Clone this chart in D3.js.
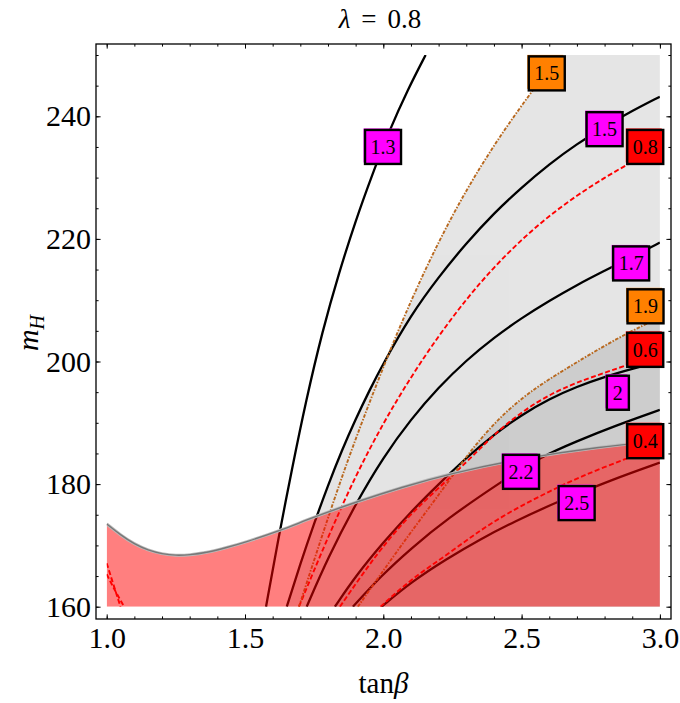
<!DOCTYPE html>
<html>
<head>
<meta charset="utf-8">
<script src="https://cdn.jsdelivr.net/npm/d3@7"></script>
<style>
  body { margin: 0; background: #fff; }
  svg { display: block; }
</style>
</head>
<body>
<svg id="chart"></svg>
<script>
var W = 680, H = 703;

// contour curves, [tanb, mH]
var black13 = [[1.576,160],[1.62,171],[1.67,182.5],[1.72,193.5],[1.78,205],[1.84,214.5],[1.90,223],[1.96,230.5],[2.02,237.5],[2.09,244.5],[2.153,250]];
var black15 = [[1.651,160],[1.70,167.0],[1.75,173.6],[1.80,179.8],[1.85,185.5],[1.90,190.6],[1.95,195.3],[2.0,199.7],[2.1,207.6],[2.2,213.8],[2.3,219.3],[2.4,224.2],[2.5,228.4],[2.6,232.2],[2.7,235.5],[2.8,238.3],[2.9,240.9],[3.0,243.2]];
var black17 = [[1.723,160],[1.80,168],[1.90,176.8],[2.0,184.4],[2.1,190.6],[2.2,195.8],[2.3,200.2],[2.4,203.9],[2.5,207.1],[2.6,209.9],[2.7,212.5],[2.8,214.8],[2.9,217.1],[3.0,219.4]];
var black20 = [[1.825,160],[1.90,165],[2.0,170.5],[2.1,175.5],[2.2,180],[2.3,184.3],[2.4,188.1],[2.5,191.3],[2.6,193.9],[2.7,195.9],[2.8,197.5],[2.9,198.8],[3.0,200]];
var black22 = [[1.890,160],[1.989,164.9],[2.1,169.5],[2.229,174.3],[2.43,180.5],[2.567,184.4],[2.7,187],[2.832,189.4],[3.0,192.1]];
var black25 = [[1.994,160],[2.1,164],[2.229,167.8],[2.35,171],[2.47,173.8],[2.633,177.2],[2.832,180.8],[3.0,183.5]];

var red08 = [[1.695,160],[1.80,171.4],[1.90,181.4],[2.0,190.0],[2.1,197.5],[2.2,204.2],[2.3,210.2],[2.4,215.4],[2.5,219.9],[2.6,223.8],[2.7,227.1],[2.8,230.0],[2.9,232.6],[3.0,235.0]];
var red06 = [[1.843,160],[1.92,165],[1.989,169.3],[2.1,175.3],[2.253,181.5],[2.35,185.8],[2.434,189.5],[2.555,193.5],[2.675,196.2],[2.783,197.9],[2.88,199.4],[3.0,201.3]];
var red04 = [[1.99,160],[2.1,164.5],[2.229,168.4],[2.35,172.5],[2.47,175.8],[2.6,178.8],[2.711,181.2],[2.88,184.2],[3.0,186.2]];
var redA = [[1.0,167.1],[1.025,163.5],[1.05,160]];
var redB = [[1.0,165.3],[1.03,162.6],[1.063,160]];

var orange15 = [[1.695,160],[1.75,167.6],[1.80,174.5],[1.85,181.1],[1.90,187.4],[2.0,199.2],[2.1,210.0],[2.2,219.6],[2.3,228.0],[2.4,235.3],[2.5,241.8],[2.635,250]];
var orange19 = [[1.908,160],[1.989,165.2],[2.1,172.2],[2.223,179.6],[2.313,185.4],[2.434,191.6],[2.555,195.9],[2.675,199.2],[2.77,201.8],[2.88,204.6],[3.0,207.2]];

// upper edge of the red region
var redEdge = [[1.0,173.5],[1.05,171.7],[1.1,170.2],[1.15,169.2],[1.2,168.6],[1.25,168.35],[1.3,168.45],[1.36,168.8],[1.43,169.6],[1.5,170.5],[1.627,172.4],[1.747,174.6],[1.916,177.3],[2.06,179.4],[2.247,181.8],[2.5,184.2],[2.783,186.1],[3.0,187.0]];

// contour labels: text, kind, tanb, mH
var labelText = ["1.5","1.3","1.5","0.8","1.7","1.9","0.6","2","0.4","2.2","2.5"];
var labelKind = ["orange","magenta","magenta","red","magenta","orange","red","magenta","red","magenta","magenta"];
var labelT = [2.591,1.999,2.80,2.947,2.896,2.948,2.947,2.848,2.947,2.498,2.699];
var labelM = [247.0,235.0,237.9,235.0,216.0,209.0,201.9,194.9,187.0,182.0,176.9];

var xMajor = [1.0,1.5,2.0,2.5,3.0];
var yMajor = [160,180,200,220,240];

var svg = d3.select("#chart").attr("width", W).attr("height", H);

var x = d3.scaleLinear().domain([1,3]).range([106.7, 659.9]);
var y = d3.scaleLinear().domain([160,250]).range([606.7, 55]);

var fL = 96, fR = 671, fT = 44, fB = 619;
var serif = "'Liberation Serif', 'Times New Roman', serif";

var line = d3.line().x(function(d){ return x(d[0]); }).y(function(d){ return y(d[1]); }).curve(d3.curveBasis);

// region under a curve, closed along the right / top edges
function under(pts){
	var last = pts[pts.length-1];
	var p = line(pts);
	if (last[0] < 3) p += "L" + x(3) + "," + y(250);
	p += "L" + x(3) + "," + y(160) + "Z";
	return p;
}

var defs = svg.append("defs");
defs.append("clipPath").attr("id","plotclip").append("rect")
	.attr("x", x(1)).attr("y", y(250)).attr("width", x(3)-x(1)).attr("height", y(160)-y(250));

var plot = svg.append("g").attr("clip-path","url(#plotclip)");

// grey excluded regions (each a union, drawn at group opacity)
var g1 = plot.append("g").attr("opacity", 0.1);
g1.append("path").attr("d", under(orange15)).attr("fill","#000");
g1.append("path").attr("d", under(black15)).attr("fill","#000");
var g2 = plot.append("g").attr("opacity", 0.1);
g2.append("path").attr("d", under(orange19)).attr("fill","#000");
g2.append("path").attr("d", under(black20)).attr("fill","#000");

// contours
[black13, black15, black17, black20, black22, black25].forEach(function(c){
	plot.append("path").attr("d", line(c)).attr("fill","none")
		.attr("stroke","#000").attr("stroke-width",2.3);
});
[red08, red06, red04, redA, redB].forEach(function(c){
	plot.append("path").attr("d", line(c)).attr("fill","none")
		.attr("stroke","#ff0000").attr("stroke-width",1.9).attr("stroke-dasharray","5,2.5");
});
[orange15, orange19].forEach(function(c){
	plot.append("path").attr("d", line(c)).attr("fill","none")
		.attr("stroke","#b8681e").attr("stroke-width",1.9).attr("stroke-dasharray","3.5,1.5,1.5,1.5");
});

// red region on top
var redPath = line(redEdge) + "L" + x(3) + "," + y(160) + "L" + x(1) + "," + y(160) + "Z";
plot.append("path").attr("d", redPath).attr("fill","#ff0000").attr("fill-opacity",0.5);
plot.append("path").attr("d", line(redEdge)).attr("fill","none")
	.attr("stroke","#bbbbbb").attr("stroke-width",3);
plot.append("path").attr("d", line(redEdge)).attr("fill","none")
	.attr("stroke","#777777").attr("stroke-width",1.4);

// contour labels
var fills = {magenta:"#ff00ff", orange:"#ff8000", red:"#ff0000"};
labelText.forEach(function(t, i){
	var cx = x(labelT[i]), cy = y(labelM[i]);
	var bw = t.length > 1 ? 36 : 22, bh = 34;
	var lg = svg.append("g");
	lg.append("rect").attr("x", cx-bw/2-1.5).attr("y", cy-bh/2-1.5).attr("width", bw).attr("height", bh)
		.attr("fill", fills[labelKind[i]]);
	lg.append("rect").attr("x", cx-bw/2).attr("y", cy-bh/2).attr("width", bw).attr("height", bh)
		.attr("fill", fills[labelKind[i]]).attr("stroke","#000").attr("stroke-width",2.4);
	lg.append("text").attr("x", cx).attr("y", cy+7).attr("text-anchor","middle")
		.attr("font-family", serif).attr("font-size", 20).attr("fill","#000").text(t);
});

// frame
svg.append("rect").attr("x", fL).attr("y", fT).attr("width", fR-fL).attr("height", fB-fT)
	.attr("fill","none").attr("stroke","#000").attr("stroke-width",1.3);

// ticks
var xMinor = d3.range(10, 31).map(function(v){ return v/10; });
var yMinor = d3.range(160, 251, 5);

function axisG(axis, tx, ty){
	var g = svg.append("g").attr("transform","translate(" + tx + "," + ty + ")").call(axis);
	g.select(".domain").remove();
	g.selectAll("line").attr("stroke","#000").attr("stroke-width",1);
	return g;
}
axisG(d3.axisBottom(x).tickValues(xMinor).tickSize(-2.6).tickFormat(""), 0, fB);
axisG(d3.axisTop(x).tickValues(xMinor).tickSize(-2.6).tickFormat(""), 0, fT);
axisG(d3.axisLeft(y).tickValues(yMinor).tickSize(-2.6).tickFormat(""), fL, 0);
axisG(d3.axisRight(y).tickValues(yMinor).tickSize(-2.6).tickFormat(""), fR, 0);
axisG(d3.axisTop(x).tickValues(xMajor).tickSize(-4.6).tickFormat(""), 0, fT);
axisG(d3.axisRight(y).tickValues(yMajor).tickSize(-4.6).tickFormat(""), fR, 0);

var xa = axisG(d3.axisBottom(x).tickValues(xMajor).tickSize(-4.6).tickPadding(8).tickFormat(d3.format(".1f")), 0, fB);
var ya = axisG(d3.axisLeft(y).tickValues(yMajor).tickSize(-4.6).tickPadding(5).tickFormat(d3.format("d")), fL, 0);
[xa, ya].forEach(function(g){
	g.selectAll("text").attr("font-family", serif).attr("font-size", 30).attr("fill","#000");
});

// title
var title = svg.append("text").attr("x", 380).attr("y", 28).attr("text-anchor","middle")
	.attr("font-family", serif).attr("font-size", 27).attr("fill","#000");
title.append("tspan").attr("font-style","italic").text("λ");
title.append("tspan").attr("dx", 11).text("=");
title.append("tspan").attr("dx", 11).text("0.8");

// axis labels
var xl = svg.append("text").attr("x", (fL+fR)/2).attr("y", 693).attr("text-anchor","middle")
	.attr("font-family", serif).attr("font-size", 29).attr("fill","#000");
xl.append("tspan").text("tan");
xl.append("tspan").attr("font-style","italic").text("β");

var yl = svg.append("text").attr("transform","translate(38,333) rotate(-90)").attr("text-anchor","middle")
	.attr("font-family", serif).attr("font-size", 30).attr("font-style","italic").attr("fill","#000");
yl.append("tspan").text("m");
yl.append("tspan").attr("font-size", 20).attr("dy", 6).text("H");
</script>
</body>
</html>
